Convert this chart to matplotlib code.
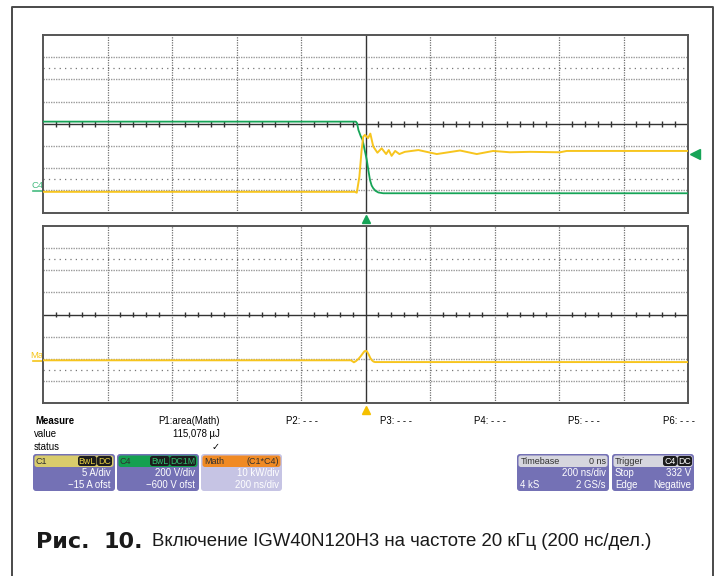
import matplotlib
matplotlib.use("Agg")
import matplotlib.pyplot as plt
from matplotlib.patches import FancyBboxPatch
from matplotlib.transforms import blended_transform_factory

# канал C1 - ток коллектора (А), время в нс
c1_t = [-1000, -33, -27, -19, -12, -7, -2, 4, 8, 15, 24, 37, 50, 64, 72, 81, 92, 105,
        122, 164, 221, 293, 345, 396, 448, 510, 603, 624, 1000]
c1_a = [-0.3, -0.3, -0.5, 3.1, 9.1, 12.1, 12.5, 12.1, 11.8, 12.8, 9.9, 8.5, 9.5, 8.2, 9.1,
        7.8, 8.9, 8.2, 8.7, 9.1, 8.2, 9.0, 8.2, 8.9, 8.6, 8.7, 8.6, 8.9, 8.9]

# канал C4 - напряжение коллектор-эмиттер (В)
c4_t = [-1000, -30, -26, -22, -15, -9, -3, 4, 9, 14, 19, 24, 32, 40, 55, 1000]
c4_v = [620, 620, 605, 545, 490, 455, 370, 275, 180, 94, 45, 20, -5, -18, -25, -25]

# Math = C1*C4, мгновенная мощность (кВт)
math_t = [-1000, -45, -36, -30, -22, -15, -8, -3, 1, 5, 10, 15, 20, 25, 30, 1000]
math_kw = [0, 0, -0.9, -0.4, 0.6, 1.8, 3.2, 4.1, 4.3, 3.9, 2.6, 1.0, 0.0, -0.6, -0.8, -0.8]

# настройки каналов
c1_scale, c1_ofst = 5, -15      # A/div, A
c4_scale, c4_ofst = 200, -600   # V/div, V
math_scale, math_pos = 10, -2.07  # kW/div, div
trig_level = 332                # V
t_div = 200                     # ns/div

W, H = 716, 576
GREEN = "#16a457"
YELLOW = "#f7c51e"
PURPLE = "#7471b5"

plt.rcParams["font.family"] = ["Liberation Sans", "DejaVu Sans"]

fig = plt.figure(figsize=(W / 100, H / 100), dpi=100)

# фоновые оси в пикселях - рамка, подписи, панели
bg = fig.add_axes([0, 0, 1, 1])
bg.set_xlim(0, W)
bg.set_ylim(H, 0)
bg.axis("off")
bg.plot([11.5, 11.5, 712.5, 712.5], [H, 6.5, 6.5, H], color="#4a4a4a", lw=1.4)


def screen(top, bottom):
    ax = fig.add_axes([43 / W, 1 - bottom / H, 645 / W, (bottom - top) / H])
    ax.set_xlim(-5 * t_div, 5 * t_div)
    ax.set_ylim(-4, 4)
    ax.set_xticks([])
    ax.set_yticks([])
    for s in ax.spines.values():
        s.set_color("#555555")
        s.set_linewidth(1.4)
    for k in range(-4, 5):
        if k != 0:
            ax.axvline(k * t_div, color="#707070", lw=0.9, ls=(0, (1, 1)), zorder=1)
    for k in range(-3, 4):
        if k != 0:
            ax.axhline(k, color="#9a9a9a", lw=1.0, ls=(0, (1, 0.8)), zorder=1)
    for k in (-2.5, 2.5):
        ax.axhline(k, color="#777777", lw=0.9, ls=(0, (1, 3.3)), zorder=1)
    ax.axhline(0, color="#333333", lw=1.0, zorder=2)
    ax.axvline(0, color="#333333", lw=1.0, zorder=2)
    ticks = [i * t_div / 5 for i in range(-25, 26) if i % 5]
    ax.vlines(ticks, -0.12, 0.12, color="#333333", lw=1.0, zorder=2)
    return ax


top = screen(35, 212.7)
bot = screen(226, 403)

c4_div = [(v + c4_ofst) / c4_scale for v in c4_v]
c1_div = [(a + c1_ofst) / c1_scale for a in c1_a]
math_div = [p / math_scale + math_pos for p in math_kw]

top.plot(c4_t, c4_div, color=GREEN, lw=1.3, zorder=3)
top.plot(c1_t, c1_div, color=YELLOW, lw=1.4, zorder=4)
bot.plot(math_t, math_div, color=YELLOW, lw=1.4, zorder=4)

# маркеры триггера
tr = blended_transform_factory(top.transAxes, top.transData)
top.plot([1.011], [(trig_level + c4_ofst) / c4_scale], marker="<", ms=6.5, color=GREEN,
         transform=tr, clip_on=False)
tr = blended_transform_factory(top.transData, top.transAxes)
top.plot([0], [-0.035], marker="^", ms=6, color=GREEN, transform=tr, clip_on=False)
tr = blended_transform_factory(bot.transData, bot.transAxes)
bot.plot([0], [-0.04], marker="^", ms=6, color="#f5c000", transform=tr, clip_on=False)

# метки каналов слева
bg.text(32, 185, "C4", color="#46bb80", fontsize=6.8, va="center")
bg.plot([33, 43], [190.8, 190.8], color="#46bb80", lw=1.2)
bg.text(30.5, 355, "Ma", color="#f5c518", fontsize=6.8, va="center")
bg.plot([33, 43], [361, 361], color="#f5c518", lw=1.2)

fs = 6.9
bg.text(35, 421, "Measure", fontsize=fs, fontweight="bold", va="center")
bg.text(34, 434, "value", fontsize=fs, va="center")
bg.text(34, 447, "status", fontsize=fs, va="center")
bg.text(220, 421, "P1:area(Math)", fontsize=fs, va="center", ha="right")
bg.text(220, 434, "115,078 µJ", fontsize=fs, va="center", ha="right")
bg.text(215.5, 447, "✓", fontsize=fs, va="center", ha="center")
for name, x in [("P2", 286), ("P3", 380), ("P4", 474), ("P5", 568), ("P6", 663)]:
    bg.text(x, 421, f"{name}: - - -", fontsize=fs, va="center")


def rbox(x0, x1, y0, y1, color, r=3.0):
    bg.add_patch(FancyBboxPatch((x0, y0), x1 - x0, y1 - y0,
                                boxstyle=f"round,pad=0,rounding_size={r}",
                                fc=color, ec="none"))


def panel(x0, x1, head_color, body_color=PURPLE):
    rbox(x0, x1, 454, 491, body_color)
    rbox(x0 + 1.5, x1 - 1.5, 455.5, 467, head_color, r=2.5)


def badge(x0, x1, text, tcolor):
    rbox(x0, x1, 456, 466, "#1c1c1c", r=2.5)
    bg.text((x0 + x1) / 2, 461.3, text, color=tcolor, fontsize=6.3, ha="center", va="center")


HEAD_T = "#303030"
panel(33, 115, "#d9cc6c")
bg.text(36, 461.3, "C1", fontsize=6.5, color=HEAD_T, va="center")
badge(78, 96.5, "BwL", "#e8d040")
badge(97, 112, "DC", "#e8d040")
bg.text(111, 473, "5 A/div", fontsize=fs, color="white", ha="right", va="center")
bg.text(111, 485, "\u221215 A ofst", fontsize=fs, color="white", ha="right", va="center")

panel(117, 199, "#14a050")
bg.text(120, 461.3, "C4", fontsize=6.5, color=HEAD_T, va="center")
badge(150, 169.5, "BwL", "#2fc070")
badge(170, 196, "DC1M", "#2fc070")
bg.text(195, 473, "200 V/div", fontsize=fs, color="white", ha="right", va="center")
bg.text(195, 485, "\u2212600 V ofst", fontsize=fs, color="white", ha="right", va="center")

panel(201, 282, "#f08a24", body_color="#c6c4e4")
bg.text(204, 461.3, "Math", fontsize=6.5, color=HEAD_T, va="center")
bg.text(279, 461.3, "(C1*C4)", fontsize=6.5, color=HEAD_T, va="center", ha="right")
bg.text(279, 473, "10 kW/div", fontsize=fs, color="white", ha="right", va="center")
bg.text(279, 485, "200 ns/div", fontsize=fs, color="white", ha="right", va="center")

panel(517, 609, "#d6d6de")
bg.text(521, 461.3, "Timebase", fontsize=6.5, color=HEAD_T, va="center")
bg.text(606, 461.3, "0 ns", fontsize=6.5, color=HEAD_T, va="center", ha="right")
bg.text(606, 473, "200 ns/div", fontsize=fs, color="white", ha="right", va="center")
bg.text(520, 485, "4 kS", fontsize=fs, color="white", va="center")
bg.text(606, 485, "2 GS/s", fontsize=fs, color="white", ha="right", va="center")

panel(612, 694, "#d6d6de")
bg.text(615, 461.3, "Trigger", fontsize=6.5, color=HEAD_T, va="center")
badge(663, 677, "C4", "white")
badge(677.5, 692, "DC", "white")
bg.text(615, 473, "Stop", fontsize=fs, color="white", va="center")
bg.text(691, 473, "332 V", fontsize=fs, color="white", ha="right", va="center")
bg.text(615, 485, "Edge", fontsize=fs, color="white", va="center")
bg.text(691, 485, "Negative", fontsize=fs, color="white", ha="right", va="center")

# подпись рисунка
cap = dict(va="center", color="#1a1a1a")
bg.text(36, 542, "Рис.", fontsize=16, fontweight="bold", family="DejaVu Sans", **cap)
bg.text(104, 542, "10.", fontsize=16, fontweight="bold", family="DejaVu Sans", **cap)
bg.text(152, 542, "Включение IGW40N120H3 на частоте 20 кГц (200 нс/дел.)",
        fontsize=13.4, **cap)

fig.savefig("out.png", dpi=100)
